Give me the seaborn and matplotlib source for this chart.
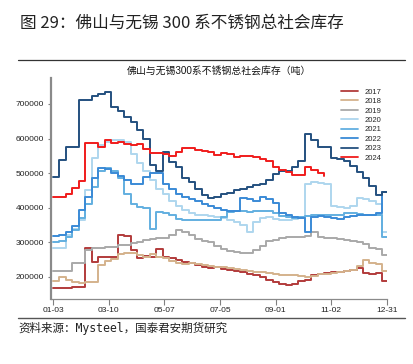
import numpy as np
import pandas as pd
import matplotlib
matplotlib.use('Agg')
import matplotlib.pyplot as plt
import seaborn as sns

# weekly social inventory (tonnes), Foshan + Wuxi 300 series
years = ['2017', '2018', '2019', '2020', '2021', '2022', '2023', '2024']

inv_2017 = [167, 167, 169, 170, 171, 284, 243, 258, 258, 258, 321, 318, 278, 255, 260, 258,
            281, 257, 255, 248, 243, 240, 236, 228, 226, 228, 222, 220, 218, 215, 210, 205,
            200, 190, 185, 180, 178, 180, 188, 192, 205, 210, 212, 213, 215, 218, 220, 225,
            212, 210, 211, 188]
inv_2018 = [188, 200, 192, 186, 183, 185, 185, 235, 245, 252, 265, 268, 270, 263, 258, 265,
            258, 255, 245, 240, 238, 240, 238, 235, 232, 228, 228, 225, 222, 220, 218, 215,
            215, 212, 210, 207, 205, 205, 202, 200, 203, 208, 210, 212, 215, 218, 220, 232,
            250, 240, 237, 218]
inv_2019 = [218, 218, 218, 240, 240, 278, 283, 283, 287, 287, 292, 292, 298, 300, 307, 310,
            313, 313, 320, 336, 330, 322, 310, 303, 300, 290, 282, 275, 272, 270, 270, 278,
            290, 305, 307, 312, 315, 315, 315, 318, 330, 315, 313, 312, 310, 308, 305, 300,
            295, 285, 280, 263]
inv_2020 = [284, 284, 320, 340, 365, 450, 545, 580, 590, 596, 596, 590, 555, 530, 505, 480,
            455, 440, 420, 405, 395, 385, 380, 378, 375, 372, 370, 365, 360, 350, 330, 360,
            370, 372, 368, 365, 365, 368, 370, 470, 475, 472, 470, 405, 402, 400, 405, 428,
            425, 420, 410, 330]
inv_2021 = [302, 305, 315, 335, 370, 410, 460, 505, 515, 505, 485, 440, 410, 402, 400, 340,
            388, 385, 378, 368, 365, 365, 366, 365, 364, 366, 372, 388, 392, 390, 388, 390,
            392, 390, 385, 375, 372, 370, 372, 375, 378, 380, 378, 378, 380, 385, 385, 382,
            380, 380, 378, 315]
inv_2022 = [318, 320, 330, 348, 395, 430, 485, 515, 512, 500, 492, 480, 470, 470, 490, 500,
            500, 470, 455, 440, 430, 425, 420, 410, 405, 400, 395, 392, 392, 428, 425, 420,
            430, 425, 415, 385, 378, 372, 370, 330, 372, 375, 372, 370, 368, 372, 375, 378,
            380, 378, 385, 445]
inv_2023 = [490, 538, 576, 576, 710, 710, 722, 729, 735, 690, 680, 662, 648, 625, 600, 525,
            506, 560, 532, 518, 486, 475, 455, 437, 428, 430, 440, 443, 450, 455, 460, 466,
            470, 480, 498, 506, 506, 518, 535, 613, 596, 576, 576, 545, 540, 535, 520, 503,
            486, 463, 437, 445]
inv_2024 = [431, 431, 440, 457, 478, 587, 587, 577, 596, 587, 590, 585, 580, 585, 570, 558,
            558, 555, 550, 560, 573, 573, 568, 565, 560, 553, 558, 555, 547, 550, 550, 547,
            540, 535, 518, 509, 503, 495, 495, 519, 509, 500, 492]

colors = ['#b23b3b', '#d4b28c', '#a9a9a9', '#aed6ee', '#62afe0', '#3a8ad6', '#24507f', '#f01c1c']
x_labels = ['01-03', '03-10', '05-07', '07-05', '09-01', '11-02', '12-31']
y_ticks = [200000, 300000, 400000, 500000, 600000, 700000]

series = [inv_2017, inv_2018, inv_2019, inv_2020, inv_2021, inv_2022, inv_2023, inv_2024]
rows = []
for yr, vals in zip(years, series):
    days = [7 * i for i in range(len(vals))]
    # full-year series run on to 12-31
    if len(vals) == 52:
        days.append(362)
        vals = vals + [vals[-1]]
    for d, v in zip(days, vals):
        rows.append({'day': d, 'value': v * 1000, 'year': yr})
df = pd.DataFrame(rows)

sns.set_theme(style='white')
plt.rcParams['font.family'] = ['Liberation Sans', 'Noto Sans CJK SC', 'DejaVu Sans']

fig = plt.figure(figsize=(4.14, 3.64), dpi=100)
ax = fig.add_axes([51 / 414, 1 - 299 / 364, 336 / 414, 221 / 364])

sns.lineplot(data=df, x='day', y='value', hue='year', palette=dict(zip(years, colors)),
             estimator=None, drawstyle='steps-post', linewidth=1.4, ax=ax, legend=True)

ax.set_xlim(-2.2, 362)
ax.set_ylim(136400, 775000)
ax.set_xticks(np.linspace(0, 362, 7))
ax.set_xticklabels(x_labels)
ax.set_yticks(y_ticks)
ax.set_yticklabels([str(v) for v in y_ticks])
ax.set_xlabel('')
ax.set_ylabel('')
ax.tick_params(axis='x', length=4, width=0.8, color='#808080', labelsize=6, pad=2, labelcolor='#222222')
ax.tick_params(axis='y', length=2, width=0.8, color='#808080', labelsize=6, pad=3, labelcolor='#222222')
ax.xaxis.set_ticks_position('bottom')
ax.yaxis.set_ticks_position('left')

for s in ['top', 'right']:
    ax.spines[s].set_visible(False)
ax.spines['left'].set_color('#8a8a8a')
ax.spines['left'].set_linewidth(1.6)
ax.spines['bottom'].set_color('#8a8a8a')
ax.spines['bottom'].set_linewidth(0.9)

handles, labels = ax.get_legend_handles_labels()
leg = ax.legend(handles, labels, loc='upper right', bbox_to_anchor=(1.005, 0.985), frameon=False,
                fontsize=5.5, handlelength=2.2, handletextpad=0.9, labelspacing=0.28)
for h in leg.get_lines():
    h.set_linewidth(1.3)

ax.set_title('佛山与无锡300系不锈钢总社会库存（吨）', fontsize=7.1, pad=3, color='#111111')

fig.text(20 / 414, 1 - 23 / 364, '图 29：佛山与无锡 300 系不锈钢总社会库存', fontsize=12,
         va='center', ha='left', color='#222222', family=['Noto Sans CJK SC', 'DejaVu Sans'])
fig.add_artist(plt.Line2D([18 / 414, 405 / 414], [1 - 60 / 364, 1 - 60 / 364],
                          color='#333333', linewidth=0.9))
fig.add_artist(plt.Line2D([18 / 414, 405 / 414], [1 - 318 / 364, 1 - 318 / 364],
                          color='#555555', linewidth=1.0))
fig.text(18 / 414, 1 - 328 / 364, '资料来源：Mysteel，国泰君安期货研究', fontsize=8.3,
         va='center', ha='left', color='#222222', family=['DejaVu Sans Mono', 'Noto Sans CJK SC'])

fig.savefig('out.png', dpi=100)
plt.close(fig)
